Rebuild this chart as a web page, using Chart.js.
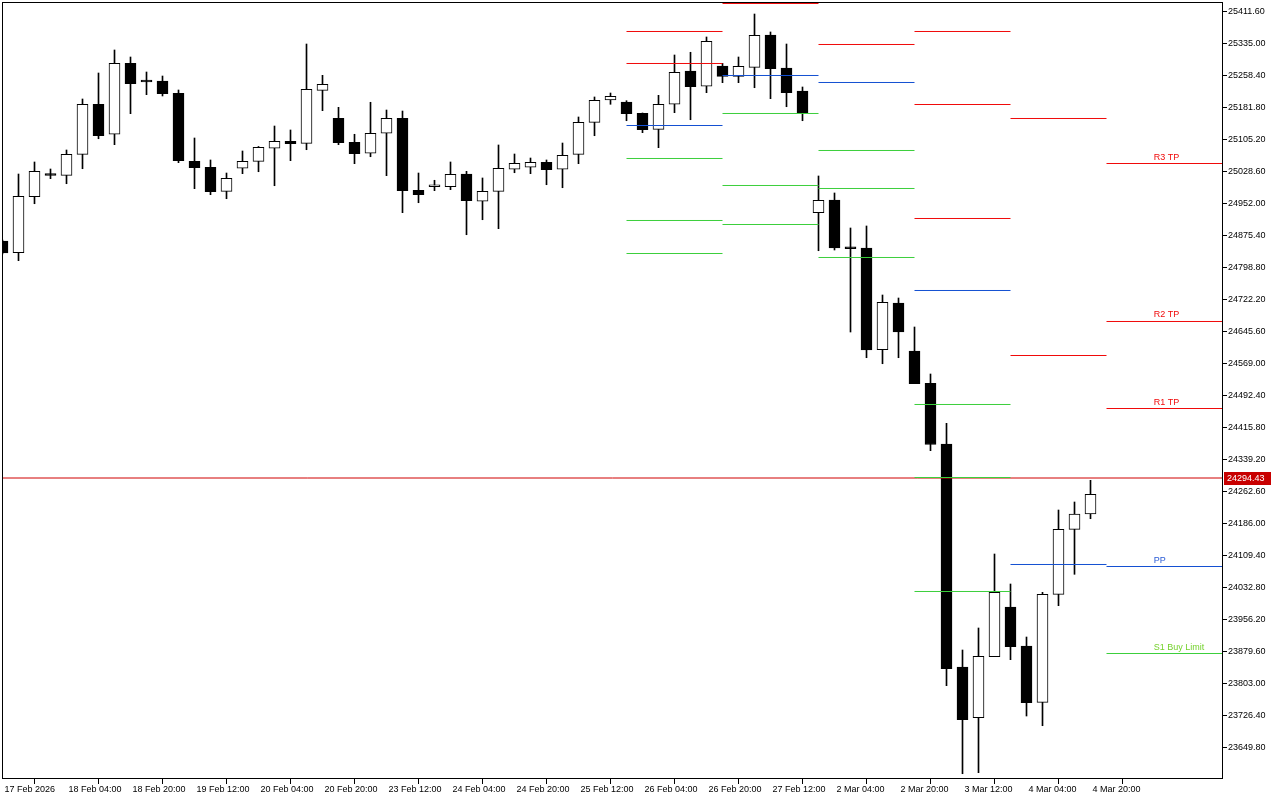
<!DOCTYPE html>
<html>
<head>
<meta charset="utf-8">
<script src="https://cdn.jsdelivr.net/npm/chart.js@4.4.1/dist/chart.umd.min.js"></script>
<style>
  html, body { margin: 0; padding: 0; background: #ffffff; }
  canvas { display: block; }
</style>
</head>
<body>
<canvas id="chart" width="1280" height="800"></canvas>
<script>
// 4h candles, index 0 = 17 Feb 12:00
const open = [
  24861.8, 24833.7, 24967.8, 25023.3, 25019.0, 25069.3, 25189.0, 25117.2, 25287.1, 25244.8,
  25244.8, 25215.3, 25052.5, 25038.2, 24980.7, 25035.8, 25052.5, 25083.7, 25100.4, 25095.6,
  25222.5, 25155.5, 25098.0, 25071.7, 25119.6, 25155.5, 24983.1, 24991.7, 24991.7, 25022.1,
  24956.8, 24980.7, 25033.4, 25038.2, 25050.1, 25033.4, 25069.3, 25145.9, 25199.3, 25194.5,
  25167.4, 25129.1, 25189.0, 25268.7, 25232.1, 25280.7, 25256.0, 25277.5, 25354.9, 25275.9,
  25220.8, 24929.5, 24959.9, 24844.3, 24845.0, 24601.6, 24713.3, 24598.4, 24521.1, 24375.8,
  23842.0, 23720.7, 23866.7, 23985.6, 23892.3, 23757.5, 24016.0, 24171.6, 24208.3
];
const high = [
  24864.2, 25022.1, 25050.9, 25034.1, 25079.6, 25201.7, 25263.9, 25319.0, 25302.2, 25266.3,
  25256.7, 25223.2, 25108.3, 25055.7, 25024.5, 25077.2, 25088.0, 25137.0, 25127.5, 25333.3,
  25258.4, 25181.8, 25117.2, 25193.8, 25175.3, 25172.9, 25024.5, 25007.1, 25050.9, 25028.6,
  25012.6, 25091.6, 25070.0, 25060.4, 25055.7, 25096.3, 25158.6, 25206.5, 25216.0, 25197.6,
  25168.2, 25210.5, 25307.0, 25313.5, 25350.1, 25287.1, 25302.2, 25405.1, 25362.1, 25333.3,
  25230.4, 25017.4, 24976.7, 24892.9, 24897.7, 24732.5, 24725.3, 24655.9, 24543.4, 24425.4,
  23882.7, 23935.4, 24112.5, 24040.7, 23913.8, 24020.8, 24217.8, 24237.0, 24288.9
];
const low = [
  24830.6, 24814.6, 24951.0, 25010.9, 24998.9, 25034.8, 25106.6, 25092.3, 25166.5, 25212.0,
  25208.9, 25049.2, 24987.0, 24972.6, 24963.0, 25022.9, 25027.6, 24994.1, 25054.0, 25080.3,
  25173.7, 25092.3, 25046.8, 25063.5, 25018.1, 24929.5, 24953.4, 24982.2, 24984.6, 24876.8,
  24912.7, 24891.2, 25025.2, 25022.9, 24996.5, 24989.3, 25046.8, 25113.8, 25189.0, 25149.7,
  25121.0, 25085.1, 25168.9, 25152.1, 25216.8, 25240.7, 25240.7, 25228.7, 25202.4, 25183.2,
  25149.7, 24838.5, 24840.2, 24643.9, 24582.4, 24568.0, 24582.4, 24520.2, 24359.8, 23797.3,
  23586.6, 23589.0, 23866.7, 23859.5, 23724.7, 23701.5, 23988.8, 24063.9, 24197.0
];
const close = [
  24833.0, 24968.8, 25028.6, 25018.5, 25069.3, 25189.0, 25113.8, 25287.1, 25238.3, 25242.4,
  25214.4, 25054.0, 25037.2, 24979.8, 25011.8, 25052.5, 25086.1, 25100.4, 25094.7, 25224.9,
  25236.9, 25097.1, 25070.7, 25119.6, 25155.5, 24982.2, 24972.6, 24993.4, 25021.4, 24958.2,
  24980.7, 25035.8, 25047.7, 25050.1, 25032.4, 25066.9, 25145.9, 25198.6, 25208.1, 25166.5,
  25128.2, 25189.0, 25265.6, 25231.1, 25339.8, 25256.0, 25279.9, 25354.2, 25274.2, 25216.8,
  25168.9, 24959.2, 24845.0, 24843.1, 24600.8, 24715.0, 24643.9, 24520.2, 24374.6, 23838.0,
  23715.9, 23867.6, 24020.8, 23890.6, 23756.6, 24016.0, 24171.6, 24208.3, 24255.4
];

const lastPrice = 24294.43;

const xTickIndex = [0, 4, 8, 12, 16, 20, 24, 28, 32, 36, 40, 44, 48, 52, 56, 60, 64, 68];
const xTickLabels = [
  "17 Feb 2026", "18 Feb 04:00", "18 Feb 20:00", "19 Feb 12:00", "20 Feb 04:00", "20 Feb 20:00",
  "23 Feb 12:00", "24 Feb 04:00", "24 Feb 20:00", "25 Feb 12:00", "26 Feb 04:00", "26 Feb 20:00",
  "27 Feb 12:00", "2 Mar 04:00", "2 Mar 20:00", "3 Mar 12:00", "4 Mar 04:00", "4 Mar 20:00"
];
const yTickValues = [
  25411.60, 25335.00, 25258.40, 25181.80, 25105.20, 25028.60, 24952.00, 24875.40,
  24798.80, 24722.20, 24645.60, 24569.00, 24492.40, 24415.80, 24339.20, 24262.60,
  24186.00, 24109.40, 24032.80, 23956.20, 23879.60, 23803.00, 23726.40, 23649.80
];

// daily pivot levels, one entry per day segment
const pivotStart = [39, 45, 51, 57, 63, 69];
const r3 = [null, null, null, 25363.25, null, 25047.27];
const r2 = [25363.25, null, null, 25188.50, 25154.99, 24669.06];
const r1 = [25286.65, 25430.27, 25332.13, 24915.62, 24587.67, 24460.80];
const pp = [25138.23, 25257.92, 25241.17, 24743.27, 24087.38, 24082.59];
const s1 = [25059.24, 25166.96, 25078.39, 24470.38, null, 23874.33];
const s2 = [24910.83, 24994.61, 24987.43, 24295.63, null, null];
const s3 = [24831.83, 24901.25, 24822.26, 24022.75, null, null];

const levelNames = ["R3 TP", "R2 TP", "R1 TP", "PP", "S1 Buy Limit"];
const levelLabelX = 71.95;

const X_MIN = -0.03125;
const X_MAX = X_MIN + 1221 / 16;
const Y_MIN = 23573.92;
const Y_MAX = 25433.86;

const RED = "#f00a0a";
const BLUE = "#1450d2";
const GREEN = "#3ccf3c";
const FONT = { family: "'Liberation Sans', Arial, sans-serif", size: 9 };

function segments(levels) {
  const pts = [];
  levels.forEach((v, i) => {
    if (v === null) return;
    const end = i + 1 < pivotStart.length ? pivotStart[i + 1] : X_MAX;
    pts.push({ x: pivotStart[i], y: v }, { x: end, y: v }, { x: end, y: null });
  });
  return pts;
}

function levelLine(levels, color) {
  return {
    type: "line",
    data: segments(levels),
    borderColor: color,
    borderWidth: 1,
    pointRadius: 0,
    spanGaps: false,
    order: 0
  };
}

const framePlugin = {
  id: "frame",
  afterDraw(chart) {
    const { ctx, chartArea, scales } = chart;
    const yScale = scales.y;
    const xScale = scales.x;
    ctx.save();
    ctx.strokeStyle = "#000000";
    ctx.lineWidth = 1;
    ctx.strokeRect(chartArea.left + 0.5, chartArea.top + 0.5,
      chartArea.right - chartArea.left - 1, chartArea.bottom - chartArea.top - 1);

    // labels on today's levels
    const lastDay = pivotStart.length - 1;
    const todays = [r3[lastDay], r2[lastDay], r1[lastDay], pp[lastDay], s1[lastDay]];
    const colors = [RED, RED, RED, "#2a5cd6", "#74d12c"];
    ctx.font = FONT.size + "px " + FONT.family;
    ctx.textAlign = "left";
    ctx.textBaseline = "bottom";
    const lx = xScale.getPixelForValue(levelLabelX);
    todays.forEach((v, i) => {
      ctx.fillStyle = colors[i];
      ctx.fillText(levelNames[i], lx, Math.round(yScale.getPixelForValue(v)) - 2);
    });

    // current price tag
    const py = Math.round(yScale.getPixelForValue(lastPrice));
    ctx.fillStyle = "#c80000";
    ctx.fillRect(chartArea.right + 1, py - 6, 47, 13);
    ctx.fillStyle = "#ffffff";
    ctx.textBaseline = "middle";
    ctx.fillText(lastPrice.toFixed(2), chartArea.right + 4, py + 1);
    ctx.restore();
  }
};

const ctx = document.getElementById("chart").getContext("2d");

new Chart(ctx, {
  type: "bar",
  data: {
    datasets: [
      {
        label: "body",
        data: close.map((c, i) => ({ x: i, y: [open[i], c] })),
        backgroundColor: close.map((c, i) => (c >= open[i] ? "#ffffff" : "#000000")),
        borderColor: "#000000",
        borderWidth: 1,
        borderSkipped: false,
        barThickness: 11,
        minBarLength: 2,
        grouped: false,
        order: 1
      },
      {
        label: "wick",
        data: high.map((h, i) => ({ x: i, y: [low[i], h] })),
        backgroundColor: "#000000",
        borderWidth: 0,
        barThickness: 1,
        grouped: false,
        order: 2
      },
      levelLine(r3, RED),
      levelLine(r2, RED),
      levelLine(r1, RED),
      levelLine(pp, BLUE),
      levelLine(s1, GREEN),
      levelLine(s2, GREEN),
      levelLine(s3, GREEN),
      {
        type: "line",
        data: [{ x: X_MIN, y: lastPrice }, { x: X_MAX, y: lastPrice }],
        borderColor: "#d00000",
        borderWidth: 1,
        pointRadius: 0,
        order: 0
      }
    ]
  },
  options: {
    responsive: false,
    animation: false,
    devicePixelRatio: 1,
    layout: { padding: { left: 2, top: 2, right: 0, bottom: 0 } },
    plugins: {
      legend: { display: false },
      tooltip: { enabled: false }
    },
    scales: {
      x: {
        type: "linear",
        min: X_MIN,
        max: X_MAX,
        offset: false,
        border: { display: false },
        grid: { drawOnChartArea: false, drawTicks: true, tickLength: 5, color: "#000000" },
        afterBuildTicks: scale => {
          scale.ticks = xTickIndex.map(v => ({ value: v }));
        },
        afterFit: scale => {
          scale.height = 21;
          scale.paddingLeft = 0;
          scale.paddingRight = 0;
        },
        ticks: {
          autoSkip: false,
          maxRotation: 0,
          minRotation: 0,
          align: "start",
          labelOffset: 2,
          padding: 0,
          color: "#000000",
          font: FONT,
          callback: (value, index) => xTickLabels[index]
        }
      },
      y: {
        position: "right",
        min: Y_MIN,
        max: Y_MAX,
        border: { display: false },
        grid: { drawOnChartArea: false, drawTicks: true, tickLength: 4, color: "#000000" },
        afterBuildTicks: scale => {
          scale.ticks = yTickValues.map(v => ({ value: v }));
        },
        afterFit: scale => {
          scale.width = 57;
          scale.paddingTop = 0;
          scale.paddingBottom = 0;
        },
        ticks: {
          padding: 1,
          color: "#000000",
          font: FONT,
          callback: value => value.toFixed(2)
        }
      }
    }
  },
  plugins: [framePlugin]
});
</script>
</body>
</html>
